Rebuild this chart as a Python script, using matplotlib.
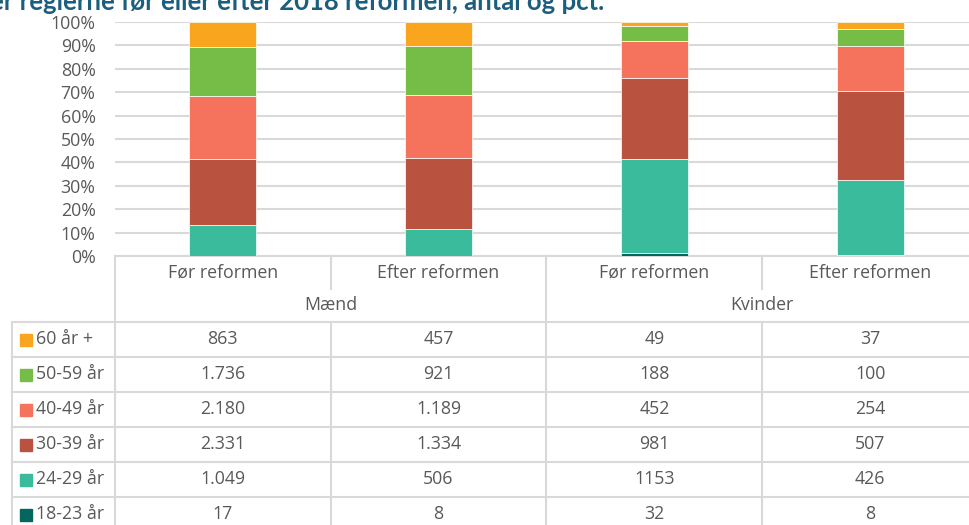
import matplotlib
matplotlib.use("Agg")
import matplotlib.pyplot as plt
import numpy as np

plt.rcParams['font.family'] = ['Open Sans', 'DejaVu Sans']

# ---------------- data ----------------
title = "er reglerne før eller efter 2018 reformen, antal og pct."
periods = ["Før reformen", "Efter reformen", "Før reformen", "Efter reformen"]
genders = ["Mænd", "Kvinder"]
ages = ["60 år +", "50-59 år", "40-49 år", "30-39 år", "24-29 år", "18-23 år"]
colors = ["#F9A51E", "#76BD47", "#F5725C", "#B9523E", "#3ABB9B", "#03665F"]

maend_foer = [863, 1736, 2180, 2331, 1049, 17]
maend_efter = [457, 921, 1189, 1334, 506, 8]
kvinder_foer = [49, 188, 452, 981, 1153, 32]
kvinder_efter = [37, 100, 254, 507, 426, 8]

maend_foer_txt = ["863", "1.736", "2.180", "2.331", "1.049", "17"]
maend_efter_txt = ["457", "921", "1.189", "1.334", "506", "8"]
kvinder_foer_txt = ["49", "188", "452", "981", "1153", "32"]
kvinder_efter_txt = ["37", "100", "254", "507", "426", "8"]

yticks = list(range(0, 101, 10))
# --------------------------------------

W, H = 970, 525
fig = plt.figure(figsize=(W / 100, H / 100), dpi=100)

grey_txt = "#595959"
line_c = "#D9D9D9"
fs = 12.8

left, right, top, bottom = 115, 978, 22, 256
ax = fig.add_axes([left / W, 1 - bottom / H, (right - left) / W, (bottom - top) / H])

data = np.array([maend_foer, maend_efter, kvinder_foer, kvinder_efter], dtype=float).T
pct = data / data.sum(axis=0) * 100
x = np.arange(len(periods))
base = np.zeros(len(periods))
for i in reversed(range(len(ages))):
    ax.bar(x, pct[i], bottom=base, width=0.31, color=colors[i],
           edgecolor="white", linewidth=0.5, zorder=3)
    base += pct[i]

ax.set_xlim(-0.5, 3.5)
ax.set_ylim(0, 100)
ax.set_yticks(yticks)
ax.set_yticklabels([f"{v}%" for v in yticks], fontsize=fs, color=grey_txt)
ax.set_xticks([])
ax.tick_params(axis="y", length=0, pad=14)
ax.yaxis.grid(True, color=line_c, linewidth=1.5)
ax.set_axisbelow(True)
for s in ax.spines.values():
    s.set_visible(False)
ax.patch.set_alpha(0)

# title (partially clipped at top like the reference)
fig.text(-10 / W, 1 - 10.5 / H, title, fontsize=18.5, fontweight="bold",
         color="#1B5E7E", va="baseline", ha="left", family=["Lato", "DejaVu Sans"])

# ---------------- table overlay ----------------
ov = fig.add_axes([0, 0, 1, 1], zorder=-1)
ov.set_xlim(0, W)
ov.set_ylim(H, 0)
ov.axis("off")

col_w = (right - left) / len(periods)
bounds = [left + col_w * k for k in range(len(periods) + 1)]
centers = [left + col_w * (k + 0.5) for k in range(len(periods))]

cat_top, cat_bot = bottom, 289
row_top = 321.5
row_h = 35
n_rows = len(ages)
tab_left = 12
lw = 1.5

# horizontal lines
ov.plot([left, W], [bottom, bottom], color=line_c, lw=lw)
for r in range(n_rows + 1):
    yy = row_top + r * row_h
    ov.plot([tab_left, W], [yy, yy], color=line_c, lw=lw)
# vertical lines
ov.plot([left, left], [bottom, H], color=line_c, lw=lw)
ov.plot([tab_left, tab_left], [row_top, H], color=line_c, lw=lw)
for k, b in enumerate(bounds[1:-1], start=1):
    if k == 2:
        ov.plot([b, b], [bottom, H], color=line_c, lw=lw)
    else:
        ov.plot([b, b], [bottom, cat_bot], color=line_c, lw=lw)
        ov.plot([b, b], [row_top, H], color=line_c, lw=lw)

# category labels
for c, lab in zip(centers, periods):
    ov.text(c, (cat_top + cat_bot) / 2, lab, ha="center", va="center",
            fontsize=fs, color=grey_txt)
# gender labels
for g, lab in enumerate(genders):
    c = (bounds[2 * g] + bounds[2 * g + 2]) / 2
    ov.text(c, (cat_bot + row_top) / 2, lab, ha="center", va="center",
            fontsize=fs, color=grey_txt)

cols_txt = [maend_foer_txt, maend_efter_txt, kvinder_foer_txt, kvinder_efter_txt]
for r, age in enumerate(ages):
    yc = row_top + (r + 0.5) * row_h
    ov.add_patch(plt.Rectangle((20, yc - 5.5), 12, 12, color=colors[r]))
    ov.text(36, yc, age, ha="left", va="center", fontsize=fs, color=grey_txt)
    for c, col in zip(centers, cols_txt):
        ov.text(c, yc, col[r], ha="center", va="center", fontsize=fs, color=grey_txt)

fig.savefig("out.png", dpi=100)
